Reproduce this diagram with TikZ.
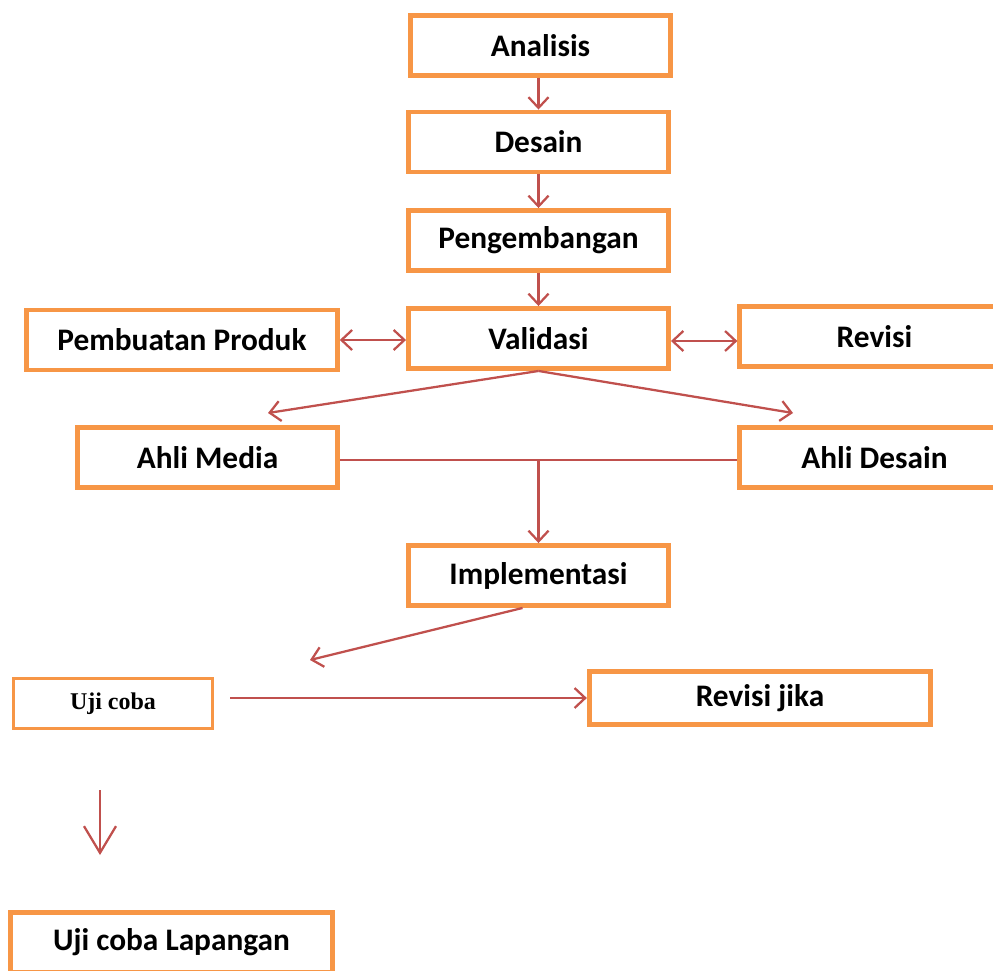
\documentclass[tikz,border=0pt]{standalone}
\usepackage{fontspec}
\setmainfont{Carlito}
\newfontfamily\timesfont{Liberation Serif}
\usetikzlibrary{arrows.meta}
\definecolor{boxorange}{HTML}{F79646}
\definecolor{arrowred}{HTML}{C0504D}
\tikzset{
  stagebox/.style={draw=boxorange, line width=3.7pt, fill=white, inner sep=0pt,
                   minimum width=195pt, minimum height=45pt,
                   font=\fontsize{23.5}{27}\selectfont\bfseries},
  flow/.style={draw=arrowred, line width=1.7pt, -{Straight Barb[length=8pt,width=15pt]}},
  flowboth/.style={draw=arrowred, line width=1.7pt, {Straight Barb[length=8pt,width=15pt]}-{Straight Barb[length=8pt,width=15pt]}},
  plainline/.style={draw=arrowred, line width=1.7pt}
}
\begin{document}
\begin{tikzpicture}[x=0.75pt, y=-0.75pt]
      \clip (0,0) rectangle (993,971);
      \useasboundingbox (0,0) rectangle (993,971);
      \node[stagebox] (analisis) at (540.5, 45.5) {Analisis};
      \node[stagebox] (desain) at (538.5, 142) {Desain};
      \node[stagebox] (pengembangan) at (538.5, 240.5) {Pengembangan};
      \node[stagebox] (validasi) at (538.5, 338.5) {Validasi};
      \node[stagebox, minimum width=233pt] (pembuatan_produk) at (182, 340) {Pembuatan Produk};
      \node[stagebox, minimum width=202pt] (revisi) at (874.5, 336.5) {Revisi};
      \node[stagebox] (ahli_media) at (207.5, 457.5) {Ahli Media};
      \node[stagebox, minimum width=202pt] (ahli_desain) at (874.5, 457.5) {Ahli Desain};
      \node[stagebox] (implementasi) at (538.5, 575.5) {Implementasi};
      \node[stagebox, line width=2.4pt, minimum width=149pt, minimum height=37.5pt,
            font=\fontsize{18}{21}\selectfont\timesfont\bfseries] (uji_coba) at (113, 703.5) {Uji coba};
      \node[stagebox, minimum width=256pt, minimum height=40pt] (revisi_jika) at (760, 698) {Revisi jika};
      \node[stagebox, minimum width=241pt] (uji_coba_lapangan) at (171.5, 942.5) {Uji coba Lapangan};
      % free ends of the connectors
      \coordinate (media_tip) at (268, 413);
      \coordinate (desain_tip) at (793, 413);
      \coordinate (cabang) at (538.5, 460);
      \coordinate (uji_tip) at (310, 660);
      \coordinate (uji_start) at (230, 698);
      \coordinate (turun_start) at (100, 790);
      \coordinate (turun_end) at (100, 855);
      \draw[flow] (desain.north |- analisis.south) -- (desain.north);
      \draw[flow] (desain.south) -- (pengembangan.north);
      \draw[flow] (pengembangan.south) -- (validasi.north);
      \draw[flowboth] (pembuatan_produk.east) -- (validasi.west |- pembuatan_produk.east);
      \draw[flowboth] (validasi.east |- 0,341) -- (revisi.west |- 0,341);
      \draw[flow] (validasi.south) -- (media_tip);
      \draw[flow] (validasi.south) -- (desain_tip);
      \draw[plainline] (ahli_media.east |- cabang) -- (ahli_desain.west |- cabang);
      \draw[flow] (cabang) -- (implementasi.north);
      \draw[flow] ([xshift=-12pt]implementasi.south) -- (uji_tip);
      \draw[flow] (uji_start) -- (revisi_jika.west |- uji_start);
      \draw[flow, -{Straight Barb[length=20pt,width=24pt]}] (turun_start) -- (turun_end);
\end{tikzpicture}
\end{document}
